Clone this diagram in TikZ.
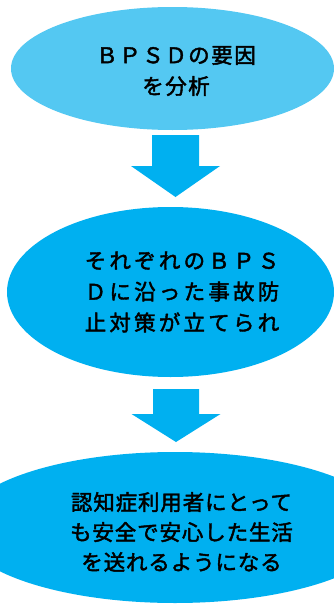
\documentclass[tikz,border=0pt]{standalone}
\usepackage{fontspec}
\usetikzlibrary{shapes.geometric}
\newfontfamily\jpa[LetterSpace=7,FakeBold=2]{Noto Sans CJK JP}
\newfontfamily\jpb[LetterSpace=15,FakeBold=2]{Noto Sans CJK JP}
\newfontfamily\jpc[LetterSpace=4,FakeBold=2]{Noto Sans CJK JP}
\definecolor{lightcyan}{RGB}{84,200,242}
\definecolor{cyanblue}{RGB}{0,176,240}
\tikzset{
  oval/.style={ellipse, inner sep=0pt, outer sep=0pt, draw=none},
  lbl/.style={align=center, inner sep=0pt, text=black},
  blockarrow/.style={fill=cyanblue, draw=none},
}
\begin{document}
\begin{tikzpicture}[x=1pt,y=-1pt]
\useasboundingbox (0,0) rectangle (334,605);
\clip (0,0) rectangle (334,605);
\fill[white] (0,0) rectangle (334,605);
% ellipses
\node[oval, fill=lightcyan, minimum width=323pt, minimum height=123pt] (e1) at (172.5,68.5) {};
\node[oval, fill=cyanblue, minimum width=327pt, minimum height=170pt] (e2) at (170.5,292) {};
\node[oval, fill=cyanblue, minimum width=430pt, minimum height=151pt] (e3) at (175,527.5) {};
% texts
\node[lbl, font=\jpa\fontsize{21.5}{31}\selectfont] (t1) at (176,71) {ＢＰＳＤの要因\\を分析};
\node[lbl, font=\jpb\fontsize{21.5}{31}\selectfont] (t2) at (182,292) {それぞれのＢＰＳ\\Ｄに沿った事故防\\止対策が立てられ};
\node[lbl, font=\jpc\fontsize{21.5}{30}\selectfont] (t3) at (181.5,532) {認知症利用者にとって\\も安全で安心した生活\\を送れるようになる};
% block arrows
\coordinate (a1) at (175.5,135);
\fill[blockarrow] (a1) ++(-23.5,0) -- ++(47,0) -- ++(0,31) -- ++(21,0) -- ++(-44.5,31) -- ++(-44.5,-31) -- ++(21,0) -- cycle;
\coordinate (a2) at (176,389);
\fill[blockarrow] (a2) ++(-23,0) -- ++(46,0) -- ++(0,25) -- ++(21.5,0) -- ++(-44.5,28) -- ++(-44.5,-28) -- ++(21.5,0) -- cycle;
\end{tikzpicture}
\end{document}
